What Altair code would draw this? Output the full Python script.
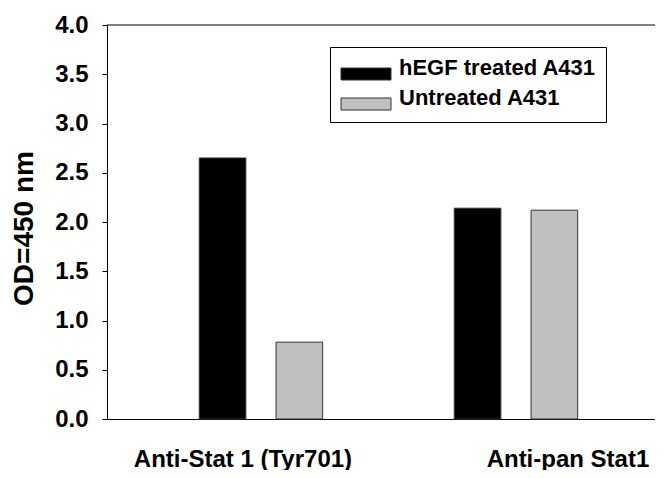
import altair as alt
import pandas as pd

categories = ["Anti-Stat 1 (Tyr701)", "Anti-pan Stat1"]
series = ["hEGF treated A431", "Untreated A431"]
values_hegf = [2.65, 2.14]
values_untreated = [0.78, 2.12]
y_ticks = [0.0, 0.5, 1.0, 1.5, 2.0, 2.5, 3.0, 3.5, 4.0]
fill_colors = ["#000000", "#c0c0c0"]

rows = []
for c, a, b in zip(categories, values_hegf, values_untreated):
    rows.append({"target": c, "cells": series[0], "od": a})
    rows.append({"target": c, "cells": series[1], "od": b})
df = pd.DataFrame(rows)

FONT = "Liberation Sans"

bars = alt.Chart(df).mark_bar(stroke="#333333", strokeWidth=1).encode(
    x=alt.X(
        "target:N",
        sort=categories,
        title=None,
        scale=alt.Scale(paddingInner=0.516, paddingOuter=0.3325, align=0.544),
        axis=alt.Axis(
            labelAngle=0,
            ticks=False,
            domain=True,
            domainColor="black",
            domainWidth=1,
            labelFont=FONT,
            labelFontSize=24,
            labelFontWeight="bold",
            labelColor="black",
            labelPadding=28,
            labelLimit=400,
            labelOffset={
                "condition": {"test": f"datum.value === '{categories[1]}'", "value": 52},
                "value": -18,
            },
        ),
    ),
    xOffset=alt.XOffset(
        "cells:N", sort=series, scale=alt.Scale(paddingInner=0.393, paddingOuter=0)
    ),
    y=alt.Y(
        "od:Q",
        scale=alt.Scale(domain=[0, 4], nice=False),
        axis=alt.Axis(
            values=y_ticks,
            format=".1f",
            title="OD=450 nm",
            grid=False,
            domainColor="black",
            tickColor="black",
            tickSize=5,
            labelFont=FONT,
            labelFontSize=24,
            labelFontWeight="bold",
            labelColor="black",
            labelPadding=14,
            titleFont=FONT,
            titleFontSize=28,
            titleFontWeight="bold",
            titleColor="black",
            titlePadding=16,
            titleY=203,
        ),
    ),
    fill=alt.Fill(
        "cells:N",
        sort=series,
        scale=alt.Scale(domain=series, range=fill_colors),
        legend=alt.Legend(
            orient="none",
            legendX=223,
            legendY=22,
            title=None,
            strokeColor="black",
            fillColor="white",
            padding=10,
            symbolType="M-2.5,0H2.5V1.2H-2.5Z",
            symbolSize=400,
            symbolOffset=15,
            symbolStrokeColor="#333333",
            symbolStrokeWidth=1,
            symbolOpacity=1,
            labelFont=FONT,
            labelFontSize=22,
            labelFontWeight="bold",
            labelColor="black",
            labelOffset=22,
            labelExpr="datum.label + '\u00a0\u00a0'",
            rowPadding=5,
            labelLimit=400,
        ),
    ),
)

top_line = alt.Chart(pd.DataFrame({"od": [y_ticks[-1]]})).mark_rule(
    color="black", strokeWidth=1
).encode(y="od:Q")

chart = (
    alt.layer(bars, top_line)
    .properties(
        width=548,
        height=394,
        padding={"left": 99, "top": 17, "right": 0, "bottom": 51},
        autosize=alt.AutoSizeParams(type="none"),
    )
    .configure_view(stroke=None)
)

chart.save("out.html", embed_options={"renderer": "svg", "actions": False})
